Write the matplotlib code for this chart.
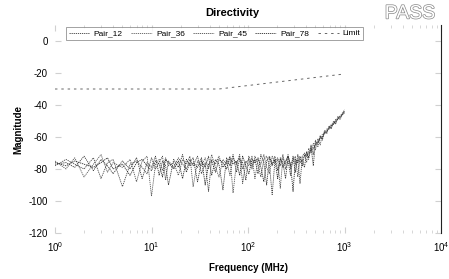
import matplotlib
matplotlib.use("Agg")
import matplotlib.pyplot as plt
import matplotlib.patheffects as pe

plt.rcParams["font.family"] = ["Liberation Sans", "DejaVu Sans"]
plt.rcParams["axes.unicode_minus"] = False

# frequency points (MHz)
freq = [1, 1.3, 1.6, 2, 2.5, 3, 3.5, 4, 5, 6,
        7, 8, 9, 10, 11, 12, 13, 14, 15, 17,
        19, 21, 23, 25, 27, 30, 33, 36, 39, 42,
        46, 50, 55, 60, 65, 70, 76, 82, 88, 95,
        102, 110, 118, 127, 136, 146, 156, 167, 178, 190,
        203, 216, 230, 245, 260, 276, 293, 310, 328, 346,
        365, 385, 405, 425, 450, 475, 500, 530, 560, 590,
        620, 655, 690, 730, 770, 810, 855, 900, 950, 1000]

pair_12 = [-77, -76, -79, -72, -81, -74, -78, -83, -75, -80,
           -73, -86, -76, -79, -72, -84, -75, -78, -90, -74,
           -79, -71, -82, -76, -73, -88, -75, -79, -72, -84,
           -74, -77, -93, -73, -78, -71, -82, -74, -76, -87,
           -72, -78, -74, -83, -71, -76, -90, -73, -77, -72,
           -81, -74, -76, -86, -72, -78, -73, -82, -71, -76,
           -74, -79, -69, -73, -66, -78, -63, -64, -60, -61,
           -57, -57, -54, -54, -51, -51, -48, -48, -46, -44]

pair_36 = [-75, -80, -73, -85, -77, -71, -82, -76, -79, -74,
           -88, -75, -72, -97, -77, -74, -81, -73, -78, -76,
           -84, -74, -77, -72, -91, -75, -78, -73, -80, -71,
           -79, -85, -74, -77, -72, -95, -76, -73, -80, -75,
           -78, -72, -86, -74, -77, -71, -79, -83, -72, -76,
           -74, -92, -73, -77, -71, -80, -75, -72, -85, -74,
           -72, -70, -76, -67, -70, -64, -68, -61, -65, -58,
           -58, -55, -55, -52, -52, -49, -49, -47, -45, -43]

pair_45 = [-78, -74, -77, -80, -73, -86, -76, -74, -91, -77,
           -75, -79, -83, -73, -80, -76, -72, -87, -75, -79,
           -73, -77, -80, -74, -78, -72, -83, -76, -94, -74,
           -77, -72, -79, -75, -84, -73, -77, -71, -89, -76,
           -74, -80, -72, -77, -85, -74, -72, -78, -96, -75,
           -73, -78, -71, -80, -75, -84, -72, -77, -74, -89,
           -73, -72, -70, -74, -65, -71, -62, -66, -59, -62,
           -56, -58, -53, -55, -50, -52, -47, -49, -46, -45]

pair_78 = [-76, -78, -75, -77, -79, -76, -73, -80, -77, -84,
           -76, -74, -78, -81, -75, -77, -85, -74, -76, -80,
           -75, -86, -74, -78, -76, -79, -73, -90, -77, -75,
           -82, -74, -76, -80, -73, -77, -75, -84, -72, -78,
           -83, -74, -76, -73, -79, -88, -75, -72, -78, -74,
           -86, -73, -79, -75, -72, -77, -94, -74, -76, -72,
           -78, -71, -72, -70, -68, -67, -65, -63, -61, -60,
           -58, -56, -55, -53, -52, -50, -49, -47, -46, -44]

limit_freq = [1, 50, 1000]
limit_db = [-30, -30, -20.6]

series = {"Pair_12": pair_12, "Pair_36": pair_36,
          "Pair_45": pair_45, "Pair_78": pair_78}
shades = ["#3a3a3a", "#5a5a5a", "#4a4a4a", "#2a2a2a"]

fig = plt.figure(figsize=(4.49, 2.79), dpi=100)
ax = fig.add_axes([55 / 449, 1 - 233 / 279, 386 / 449, 208 / 279])

for (name, vals), c in zip(series.items(), shades):
    ax.plot(freq, vals, color=c, lw=0.6, ls=(0, (1.5, 1)), label=name)
ax.plot(limit_freq, limit_db, color="#666666", lw=0.7,
        ls=(0, (2.5, 4)), label="Limit")

ax.set_xscale("log")
ax.set_xlim(1, 1e4)
ax.set_ylim(-120, 10)
ax.set_yticks(range(-120, 1, 20))

for s in ("left", "top", "bottom"):
    ax.spines[s].set_visible(False)
ax.spines["right"].set_color("#222222")
ax.spines["right"].set_linewidth(0.8)
ax.tick_params(which="both", direction="in", labelsize=7, color="#d0d0d0",
               top=True, right=True, pad=5)
ax.tick_params(which="major", length=4)
ax.tick_params(which="minor", length=2)

ax.set_xlabel("Frequency (MHz)", fontsize=7, fontweight="bold", labelpad=7)
ax.set_ylabel("Magnitude", fontsize=7, fontweight="bold", labelpad=4)

fig.text(232 / 449, 1 - 13 / 279, "Directivity", ha="center", va="center",
         fontsize=8, fontweight="bold")
fig.text(410 / 449, 1 - 14 / 279, "PASS", ha="center", va="center",
         fontsize=14, color="white",
         path_effects=[pe.withStroke(linewidth=1.0, foreground="#888888")])

leg = ax.legend(loc="upper left", bbox_to_anchor=(0.018, 1.01), ncol=5,
                fontsize=6, frameon=True, fancybox=False, handlelength=2.5,
                columnspacing=1.0, borderpad=0.3, handletextpad=0.5)
leg.get_frame().set_edgecolor("#777777")
leg.get_frame().set_linewidth(0.6)

fig.savefig("out.png", dpi=100)
